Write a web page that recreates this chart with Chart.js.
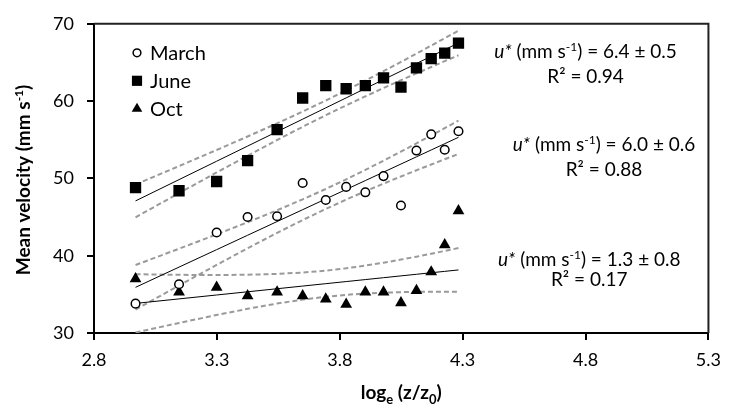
<!DOCTYPE html>
<html>
<head>
<meta charset="utf-8">
<script src="https://cdn.jsdelivr.net/npm/chart.js@4.4.1/dist/chart.umd.min.js"></script>
<style>
  html, body { margin: 0; padding: 0; background: #fff; }
  #wrap { width: 730px; height: 412px; }
</style>
</head>
<body>
<div id="wrap"><canvas id="velChart"></canvas></div>
<script>
// ln(z/z0) of each measuring height, shared by the three campaigns
const logZ = [2.969, 3.146, 3.299, 3.425, 3.545, 3.649, 3.743, 3.826, 3.904, 3.978, 4.049, 4.112, 4.172, 4.227, 4.283];
// mean velocity (mm s-1)
const march = [33.8, 36.3, 43.0, 45.0, 45.1, 49.4, 47.2, 48.9, 48.2, 50.3, 46.5, 53.6, 55.7, 53.7, 56.1];
const june = [48.8, 48.4, 49.6, 52.3, 56.3, 60.4, 62.0, 61.6, 62.0, 63.0, 61.8, 64.3, 65.5, 66.2, 67.5];
const oct = [37.0, 35.3, 35.9, 34.8, 35.3, 34.8, 34.4, 33.7, 35.3, 35.3, 33.9, 35.5, 37.9, 41.4, 45.8];

const seriesNames = ['March', 'June', 'Oct'];
const xTicks = [2.8, 3.3, 3.8, 4.3, 4.8, 5.3];
const uStar = ['6.0 ± 0.6', '6.4 ± 0.5', '1.3 ± 0.8'];
const rSquared = ['0.88', '0.94', '0.17'];

const FONT = 'Lato, "Open Sans", sans-serif';
const T_975 = 2.160; // Student t, 13 dof (15 points)

// least squares fit + 95% confidence band of the mean
function fitBand(xs, ys) {
    const n = xs.length;
    const mx = xs.reduce((a, b) => a + b, 0) / n;
    const my = ys.reduce((a, b) => a + b, 0) / n;
    let sxx = 0, sxy = 0;
    xs.forEach((x, i) => { sxx += (x - mx) * (x - mx); sxy += (x - mx) * (ys[i] - my); });
    const b = sxy / sxx, a = my - b * mx;
    let sse = 0;
    xs.forEach((x, i) => { const r = ys[i] - (a + b * x); sse += r * r; });
    const s = Math.sqrt(sse / (n - 2));
    const fit = [], lo = [], hi = [];
    xs.forEach(x => {
        const yh = a + b * x;
        const h = T_975 * s * Math.sqrt(1 / n + (x - mx) * (x - mx) / sxx);
        fit.push({ x: x, y: yh });
        lo.push({ x: x, y: yh - h });
        hi.push({ x: x, y: yh + h });
    });
    return { fit, lo, hi };
}

const series = [march, june, oct];
const markers = [
    { pointStyle: 'circle', radius: 4.3, bg: '#fff', border: '#000', bw: 1.5 },
    { pointStyle: 'rect', radius: 8, bg: '#000', border: '#000', bw: 0 },
    { pointStyle: 'triangle', radius: 6.8, bg: '#000', border: '#000', bw: 0 }
];

const datasets = [];
series.forEach((ys, i) => {
    const m = markers[i];
    datasets.push({
        label: seriesNames[i],
        data: logZ.map((x, k) => ({ x: x, y: ys[k] })),
        pointStyle: m.pointStyle,
        pointRadius: m.radius,
        pointBackgroundColor: m.bg,
        pointBorderColor: m.border,
        pointBorderWidth: m.bw,
        showLine: false,
        order: 0
    });
    const band = fitBand(logZ, ys);
    datasets.push({ label: 'fit', data: band.fit, showLine: true, pointRadius: 0, borderColor: '#000', borderWidth: 1, order: 1 });
    ['lo', 'hi'].forEach(k => {
        datasets.push({ label: 'ci', data: band[k], showLine: true, pointRadius: 0, borderColor: '#9a9a9a', borderWidth: 2, borderDash: [5, 3], order: 2 });
    });
});

function drawMarker(ctx, m, x, y) {
    ctx.save();
    ctx.fillStyle = m.bg;
    ctx.strokeStyle = m.border;
    ctx.lineWidth = m.bw;
    ctx.beginPath();
    if (m.pointStyle === 'circle') {
        ctx.arc(x, y, m.radius, 0, Math.PI * 2);
    } else if (m.pointStyle === 'rect') {
        const s = m.radius * Math.SQRT1_2;
        ctx.rect(x - s, y - s, 2 * s, 2 * s);
    } else {
        const r = m.radius;
        ctx.moveTo(x, y - r);
        ctx.lineTo(x + r * Math.sin(2 * Math.PI / 3), y - r * Math.cos(2 * Math.PI / 3));
        ctx.lineTo(x + r * Math.sin(4 * Math.PI / 3), y - r * Math.cos(4 * Math.PI / 3));
        ctx.closePath();
    }
    ctx.fill();
    if (m.bw > 0) ctx.stroke();
    ctx.restore();
}

// text made of runs with their own font / vertical shift, centred on cx
function drawRich(ctx, runs, cx, baseY) {
    let total = 0;
    runs.forEach(r => { ctx.font = r.font; r.w = ctx.measureText(r.text).width; total += r.w; });
    let x = cx - total / 2;
    ctx.textAlign = 'left';
    ctx.textBaseline = 'alphabetic';
    runs.forEach(r => { ctx.font = r.font; ctx.fillText(r.text, x, baseY + (r.dy || 0)); x += r.w; });
}

// where the fit labels sit (data units) and the line gap in px
const labelPos = [
    { x: 4.875, y: 54.5, gap: 25 },
    { x: 4.80, y: 66.5, gap: 25 },
    { x: 4.815, y: 39.6, gap: 20 }
];

const decorations = {
    id: 'decorations',
    afterDraw(chart) {
        const ctx = chart.ctx;
        const area = chart.chartArea;
        const xs = chart.scales.x, ys = chart.scales.y;
        ctx.save();
        // plot area box (top and right sides)
        ctx.strokeStyle = '#222';
        ctx.lineWidth = 2;
        ctx.beginPath();
        ctx.moveTo(area.left, area.top);
        ctx.lineTo(area.right, area.top);
        ctx.lineTo(area.right, area.bottom);
        ctx.stroke();

        ctx.fillStyle = '#000';
        // legend
        seriesNames.forEach((name, i) => {
            const y = area.top + 29 + i * 28;
            const m = Object.assign({}, markers[i], { radius: markers[i].radius * 0.9 });
            drawMarker(ctx, m, area.left + 43, y);
            ctx.fillStyle = '#000';
            ctx.font = '20px ' + FONT;
            ctx.textAlign = 'left';
            ctx.textBaseline = 'middle';
            ctx.fillText(name, area.left + 56, y + 1);
        });

        // fit labels
        labelPos.forEach((p, i) => {
            const cx = xs.getPixelForValue(p.x);
            const cy = ys.getPixelForValue(p.y);
            drawRich(ctx, [
                { text: 'u*', font: 'italic 19px ' + FONT },
                { text: ' (mm s', font: '19px ' + FONT },
                { text: '-1', font: '12px ' + FONT, dy: -7 },
                { text: ') = ' + uStar[i], font: '19px ' + FONT }
            ], cx, cy + 7);
            drawRich(ctx, [{ text: 'R² = ' + rSquared[i], font: '19px ' + FONT }], cx, cy + p.gap + 7);
        });

        // axis titles
        drawRich(ctx, [
            { text: 'log', font: 'bold 19px ' + FONT },
            { text: 'e', font: 'bold 13px ' + FONT, dy: 5 },
            { text: ' (z/z', font: 'bold 19px ' + FONT },
            { text: '0', font: 'bold 13px ' + FONT, dy: 5 },
            { text: ')', font: 'bold 19px ' + FONT }
        ], (area.left + area.right) / 2, 399);

        ctx.translate(23, 180);
        ctx.rotate(-Math.PI / 2);
        drawRich(ctx, [
            { text: 'Mean velocity (mm s', font: 'bold 19px ' + FONT },
            { text: '-1', font: 'bold 12px ' + FONT, dy: -7 },
            { text: ')', font: 'bold 19px ' + FONT }
        ], 0, 7);
        ctx.restore();
    }
};

new Chart(document.getElementById('velChart'), {
    type: 'scatter',
    data: { datasets: datasets },
    plugins: [decorations],
    options: {
        responsive: true,
        maintainAspectRatio: false,
        animation: false,
        layout: { padding: { left: 0, right: 15, top: 15, bottom: 0 } },
        scales: {
            x: {
                type: 'linear',
                min: 2.8,
                max: 5.3,
                afterBuildTicks: scale => { scale.ticks = xTicks.map(v => ({ value: v })); },
                afterFit: scale => { scale.height = 79; },
                ticks: { color: '#000', padding: 9, font: { family: FONT, size: 18 }, callback: v => v.toFixed(1) },
                grid: { drawOnChartArea: false, tickLength: 7, tickColor: '#000', lineWidth: 2 },
                border: { color: '#000', width: 2 }
            },
            y: {
                min: 30,
                max: 70,
                ticks: { stepSize: 10, color: '#000', padding: 13, font: { family: FONT, size: 18 } },
                afterFit: scale => { scale.width = 94; },
                grid: { drawOnChartArea: false, tickLength: 7, tickColor: '#000', lineWidth: 2 },
                border: { color: '#000', width: 2 }
            }
        },
        plugins: {
            legend: { display: false },
            tooltip: { enabled: false }
        }
    }
});
</script>
</body>
</html>
